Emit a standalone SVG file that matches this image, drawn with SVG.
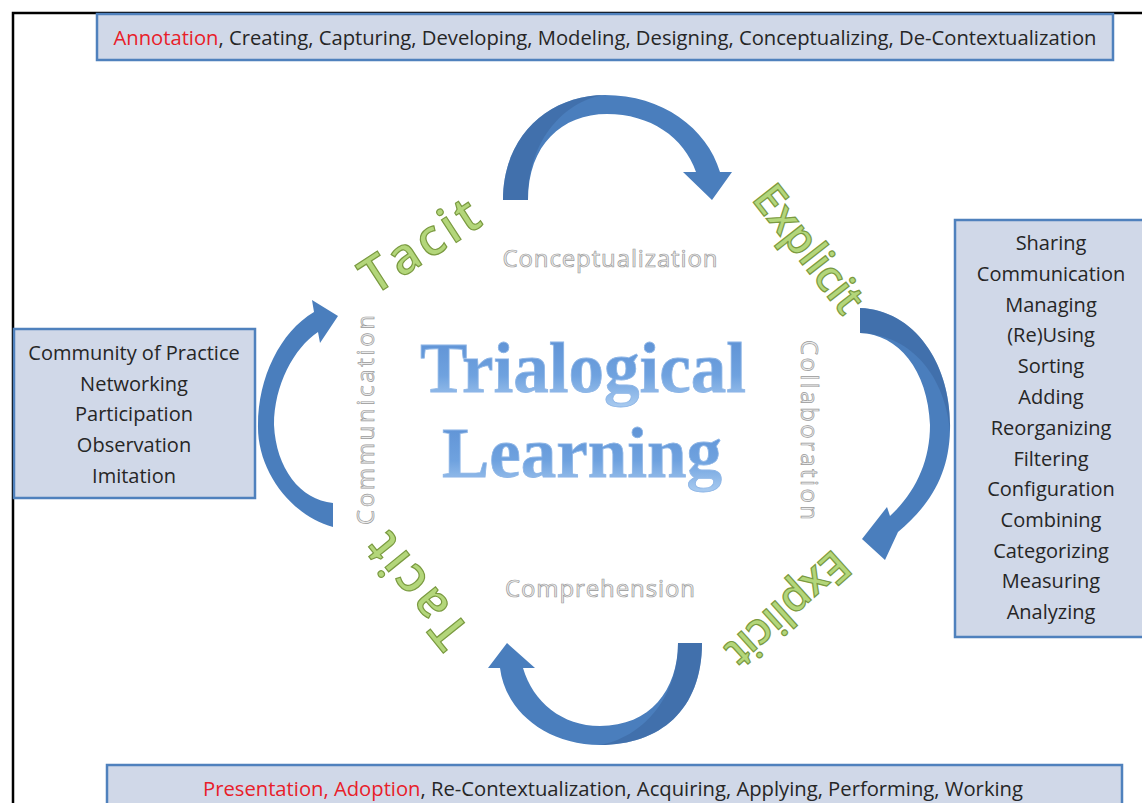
<svg xmlns="http://www.w3.org/2000/svg" width="1142" height="803" viewBox="0 0 1142 803">
<defs>
<linearGradient id="tl" x1="0" y1="0" x2="0" y2="1">
<stop offset="0" stop-color="#5b8fd3"/><stop offset="0.6" stop-color="#6fa2df"/><stop offset="1" stop-color="#a9cbf0"/>
</linearGradient>
<style>
.box{fill:#d0d8e8;stroke:#4f81bd;stroke-width:2.5}
.bt{font-family:"Open Sans","Noto Sans",sans-serif;font-size:20px;fill:#262626;text-anchor:middle}
.red{fill:#e8202a}
.arr{fill:#4a7ebd}
.arrd{fill:#3c68a0}
.green{font-family:"Open Sans","Noto Sans",sans-serif;font-size:50px;font-weight:600;fill:#b3d67a;stroke:#7a9a40;stroke-width:1.2;text-anchor:middle}
.ex{font-size:44px}
.gray{font-family:"Open Sans","Noto Sans",sans-serif;font-size:24px;fill:#ededed;stroke:#9a9a9a;stroke-width:0.7;text-anchor:middle}
.title{font-family:"Liberation Serif","Times New Roman",serif;font-size:71px;font-weight:bold;fill:url(#tl);stroke:#8db5e6;stroke-width:0.8;text-anchor:middle}
</style>
</defs>
<rect width="1142" height="803" fill="#ffffff"/>
<path d="M13,803 V13 H1142" fill="none" stroke="#000" stroke-width="2.5"/>

<g id="connectors">
<path class="arr" d="M503,200 C503,135 550,95 605,95 C662,95 707,128 720,172 L732,172 L712,200 L683,172 L696,172 C684,137 650,114 607,114 C562,114 528,145 528,200 Z"/>
<path class="arrd" d="M503,200 C503,135 550,95 605,95 C575,98 528,130 528,200 Z" opacity="0.6"/>
<path class="arr" d="M860,308 C915,310 952,365 950,430 C949,475 930,505 898,532 L885,560 L862,539 L887,507 L890,516 C915,493 930,462 930,425 C928,370 898,334 860,333 Z"/>
<path class="arrd" d="M860,308 C915,310 952,365 950,430 C945,380 915,335 860,333 Z" opacity="0.6"/>
<path class="arr" d="M333,527 C290,515 257,470 258,425 C258,378 280,332 314,312 L312,300 L338,316 L320,343 L318,332 C294,348 274,385 274,425 C276,468 300,500 333,503 Z"/>
<path class="arr" d="M702,643 C702,710 660,745 600,745 C545,745 505,710 500,668 L488,668 L507,643 L535,668 L523,668 C533,702 562,726 600,726 C650,726 678,690 678,643 Z"/>
<path class="arrd" d="M702,643 C702,710 660,745 600,745 C640,738 678,700 678,643 Z" opacity="0.6"/>
</g>

<g id="top-box">
<rect class="box" x="97" y="14" width="1016" height="46"/>
<text class="bt" x="605" y="45" textLength="983" lengthAdjust="spacingAndGlyphs"><tspan class="red">Annotation</tspan>, Creating, Capturing, Developing, Modeling, Designing, Conceptualizing, De-Contextualization</text>
</g>

<g id="right-box">
<rect class="box" x="955" y="220" width="200" height="417"/>
<text class="bt" x="1051" y="250">Sharing</text>
<text class="bt" x="1051" y="281">Communication</text>
<text class="bt" x="1051" y="312">Managing</text>
<text class="bt" x="1051" y="342">(Re)Using</text>
<text class="bt" x="1051" y="373">Sorting</text>
<text class="bt" x="1051" y="404">Adding</text>
<text class="bt" x="1051" y="435">Reorganizing</text>
<text class="bt" x="1051" y="466">Filtering</text>
<text class="bt" x="1051" y="496">Configuration</text>
<text class="bt" x="1051" y="527">Combining</text>
<text class="bt" x="1051" y="558">Categorizing</text>
<text class="bt" x="1051" y="588">Measuring</text>
<text class="bt" x="1051" y="619">Analyzing</text>
</g>

<g id="left-box">
<rect class="box" x="14" y="329" width="241" height="169"/>
<text class="bt" x="134" y="360">Community of Practice</text>
<text class="bt" x="134" y="391">Networking</text>
<text class="bt" x="134" y="421">Participation</text>
<text class="bt" x="134" y="452">Observation</text>
<text class="bt" x="134" y="483">Imitation</text>
</g>

<g id="bottom-box">
<rect class="box" x="107" y="765" width="1015" height="50"/>
<text class="bt" x="613" y="796" textLength="820" lengthAdjust="spacingAndGlyphs"><tspan class="red">Presentation, Adoption</tspan>, Re-Contextualization, Acquiring, Applying, Performing, Working</text>
</g>

<g id="labels">
<text class="green" transform="translate(429,260) rotate(-33)" textLength="132">Tacit</text>
<text class="green ex" transform="translate(797,258) rotate(52)" textLength="150">Explicit</text>
<text class="green" transform="translate(430,580) rotate(231)" textLength="132">Tacit</text>
<text class="green ex" transform="translate(778,598) rotate(138)" textLength="150">Explicit</text>
<text class="gray" x="610" y="267" textLength="215">Conceptualization</text>
<text class="gray" x="600" y="597" textLength="190">Comprehension</text>
<text class="gray" transform="translate(374,420) rotate(-90)" textLength="210">Communication</text>
<text class="gray" transform="translate(801,430) rotate(90)" textLength="180">Collaboration</text>
</g>

<g id="title">
<text class="title" x="583" y="392">Trialogical</text>
<text class="title" x="582" y="477">Learning</text>
</g>
</svg>
